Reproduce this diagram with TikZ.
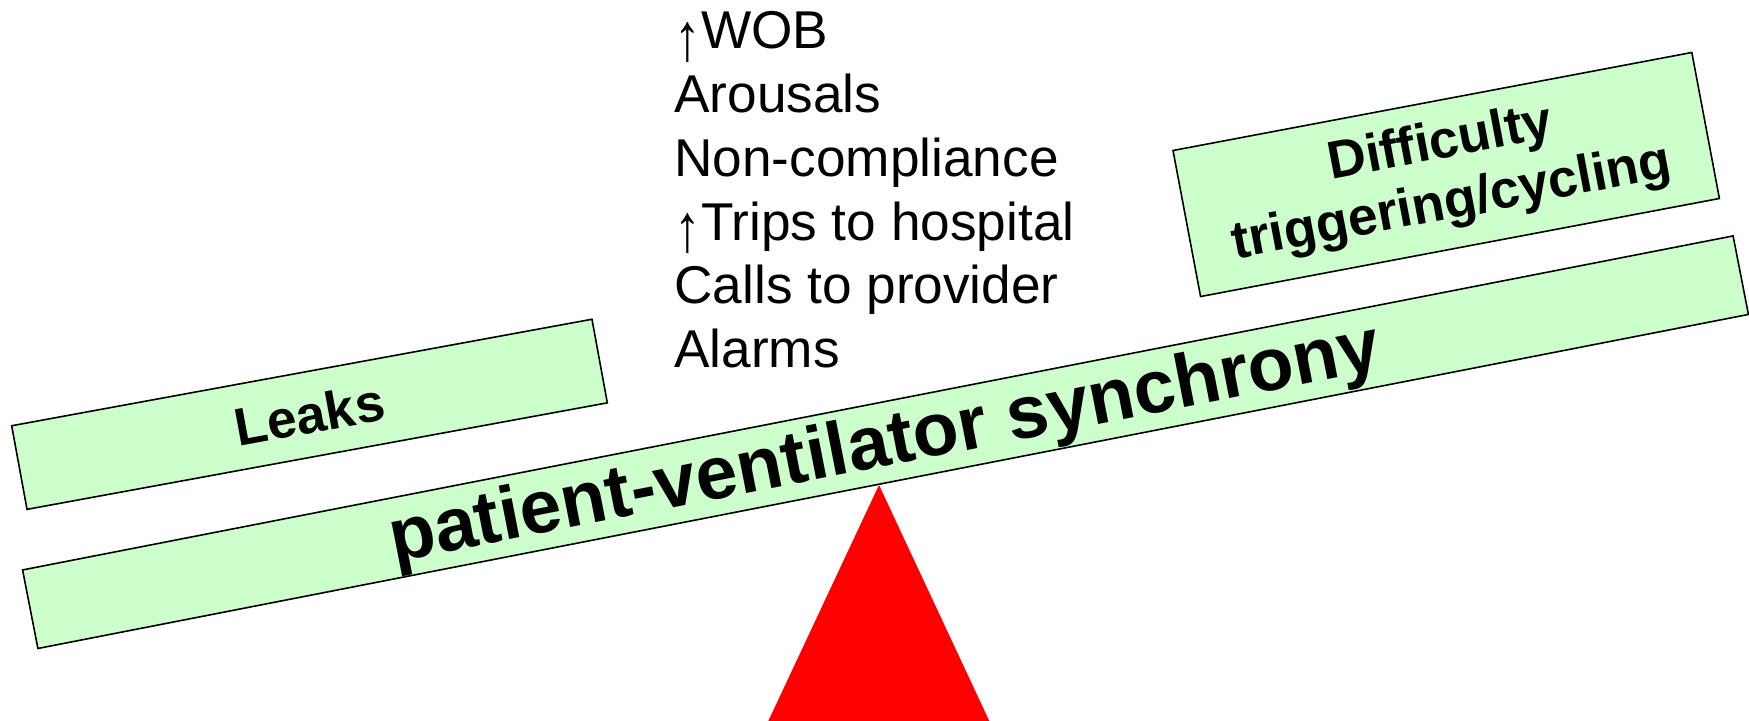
\documentclass[tikz,border=0pt]{standalone}
\usepackage{fontspec}
\setmainfont{Liberation Sans}
\definecolor{plankgreen}{HTML}{CCFFCC}
\definecolor{fulcrumred}{HTML}{FF0000}
% a taller up arrow that dips below the baseline
\newcommand{\uparr}{\raisebox{-0.22em}{\scalebox{1}[1.27]{↑}}}
\begin{document}
\begin{tikzpicture}[x=0.5bp,y=-0.5bp,
  plank/.style={rectangle, draw=black, line width=0.8bp, fill=plankgreen,
                inner sep=0pt, align=center},
  weightlabel/.style={font=\fontsize{26.6bp}{30.3bp}\selectfont\bfseries},
  beamlabel/.style={inner sep=0pt, anchor=base,
                    font=\fontsize{37.5bp}{45bp}\selectfont\bfseries},
  effect/.style={inner sep=0pt, anchor=base west,
                 font=\fontsize{26.6bp}{32bp}\selectfont}]
\useasboundingbox (0,0) rectangle (1749,721);

% fulcrum
\coordinate (apex) at (879,485);
\coordinate (baseL) at (768.3,721);
\coordinate (baseR) at (989.3,721);
\fill[fulcrumred] (apex) -- (baseL) -- (baseR) -- cycle;

% the beam resting on the fulcrum
\node[plank, minimum width=871.4bp, minimum height=40bp, rotate=11.05]
  (beam) at (885.5,442.2) {};
\node[beamlabel, rotate=11.05] (beamtext) at (889,465.4)
  {patient-ventilator synchrony};

% weights on either side
\node[plank, weightlabel, minimum width=295bp, minimum height=42.5bp, rotate=10.4]
  (leaks) at (309.5,414.3) {Leaks};
\node[plank, weightlabel, minimum width=264bp, minimum height=74.3bp, rotate=10.7]
  (difficulty) at (1446.2,174.5) {Difficulty\\triggering/cycling};

% consequences
\node[effect] (e1) at (674,48.3)  {\uparr WOB};
\node[effect] (e2) at (674,112.2) {Arousals};
\node[effect] (e3) at (674,176.1) {Non-compliance};
\node[effect] (e4) at (674,240.0) {\uparr Trips to hospital};
\node[effect] (e5) at (674,303.9) {Calls to provider};
\node[effect] (e6) at (674,367.8) {Alarms};
\end{tikzpicture}
\end{document}
